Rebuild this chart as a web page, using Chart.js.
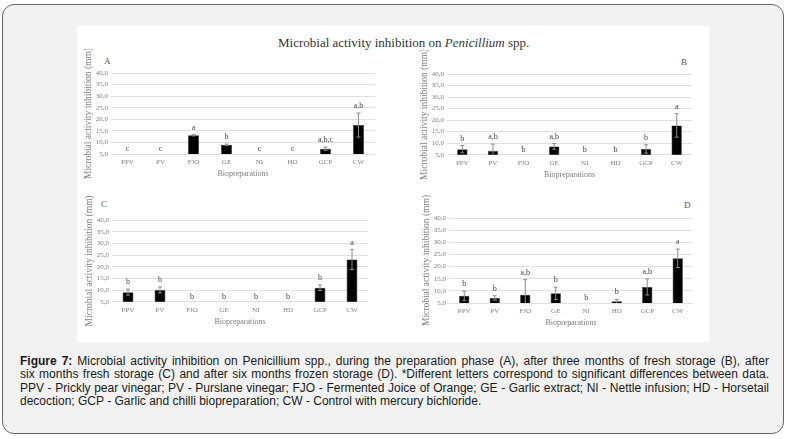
<!DOCTYPE html>
<html>
<head>
<meta charset="utf-8">
<script src="https://cdn.jsdelivr.net/npm/chart.js@4/dist/chart.umd.min.js"></script>
<style>
  body { margin: 0; background: #fff; width: 790px; height: 439px; overflow: hidden; position: relative; }
  #frame { position: absolute; left: 2px; top: 4px; width: 780px; height: 428px; border: 1.5px solid #666; border-radius: 12px; background: #f2f2f2; }
  #sheet { position: absolute; left: 77px; top: 26px; width: 632px; height: 316px; background: #fff; }
  #title { position: absolute; left: 278px; top: 35px; white-space: nowrap; font-family: "Liberation Serif", serif; font-size: 13px; color: #333; }
  .tag { position: absolute; font-family: "Liberation Serif", serif; font-size: 9px; color: #555; }
  canvas { position: absolute; }
  #caption { position: absolute; left: 20px; top: 355px; width: 749px; font-family: "Liberation Sans", Arial, sans-serif; font-size: 12px; line-height: 13.4px; color: #1a1a1a; }
  #caption div { text-align: justify; text-align-last: justify; white-space: nowrap; }
  #caption div.last { text-align-last: left; }
</style>
</head>
<body>
<div id="frame"></div>
<div id="sheet"></div>
<div id="title">Microbial activity inhibition on <i>Penicillium</i> spp.</div>
<div class="tag" style="left:104px;top:56px">A</div>
<div class="tag" style="left:681px;top:57px">B</div>
<div class="tag" style="left:101px;top:199px">C</div>
<div class="tag" style="left:684px;top:200px">D</div>
<canvas id="chartA"></canvas>
<canvas id="chartB"></canvas>
<canvas id="chartC"></canvas>
<canvas id="chartD"></canvas>
<div id="caption">
  <div><b>Figure 7:</b> Microbial activity inhibition on Penicillium spp., during the preparation phase (A), after three months of fresh storage (B), after</div>
  <div>six months fresh storage (C) and after six months frozen storage (D). *Different letters correspond to significant differences between data.</div>
  <div>PPV - Prickly pear vinegar; PV - Purslane vinegar; FJO - Fermented Joice of Orange; GE - Garlic extract; NI - Nettle infusion; HD - Horsetail</div>
  <div class="last">decoction; GCP - Garlic and chilli biopreparation; CW - Control with mercury bichloride.</div>
</div>
<script>
var categories = ['PPV', 'PV', 'FJO', 'GE', 'NI', 'HD', 'GCP', 'CW'];
var yTicks = [5, 10, 15, 20, 25, 30, 35, 40];

var valuesA = [0, 0, 13.1, 9.0, 0, 0, 7.3, 17.5];
var errorsA = [0, 0, 0.3, 0.3, 0, 0, 0.7, 5.2];
var lettersA = ['c', 'c', 'a', 'b', 'c', 'c', 'a,b,c', 'a,b'];

var valuesB = [7.4, 6.7, 0, 8.6, 0, 0, 7.5, 17.7];
var errorsB = [1.6, 2.9, 0, 1.2, 0, 0, 1.8, 5.1];
var lettersB = ['b', 'a,b', 'b', 'a,b', 'b', 'b', 'b', 'a'];

var valuesC = [9.1, 10.0, 0, 0, 0, 0, 11.0, 23.1];
var errorsC = [1.3, 1.3, 0, 0, 0, 0, 1.2, 4.3];
var lettersC = ['b', 'b', 'b', 'b', 'b', 'b', 'b', 'a'];

var valuesD = [8.0, 7.1, 8.4, 9.0, 0, 5.7, 11.6, 23.4];
var errorsD = [1.9, 0.9, 6.2, 2.5, 0, 0.8, 3.3, 3.8];
var lettersD = ['b', 'b', 'a,b', 'b', 'b', 'b', 'a,b', 'a'];

var serif = '"Liberation Serif", serif';

// error bars and letters drawn on top of the bars
var extras = {
    id: 'extras',
    afterDatasetsDraw: function (chart, args, opts) {
        var ctx = chart.ctx;
        var y = chart.scales.y;
        var meta = chart.getDatasetMeta(0);
        var area = chart.chartArea;
        ctx.save();
        meta.data.forEach(function (bar, i) {
            var v = opts.values[i], e = opts.errors[i];
            var top = v;
            if (v > y.min && e > 0) {
                var yt = y.getPixelForValue(v + e);
                var yb = Math.min(y.getPixelForValue(v - e), area.bottom);
                ctx.strokeStyle = '#8c8c8c';
                ctx.lineWidth = 1;
                ctx.beginPath();
                ctx.moveTo(bar.x, yt); ctx.lineTo(bar.x, yb);
                ctx.moveTo(bar.x - 2, yt); ctx.lineTo(bar.x + 2, yt);
                if (yb < area.bottom) { ctx.moveTo(bar.x - 2, yb); ctx.lineTo(bar.x + 2, yb); }
                ctx.stroke();
                top = v + e;
            }
            var ly = top > y.min ? y.getPixelForValue(top) - 3 : area.bottom - 1;
            ctx.fillStyle = '#444';
            ctx.font = '8px ' + serif;
            ctx.textAlign = 'center';
            ctx.textBaseline = 'bottom';
            ctx.fillText(opts.letters[i], bar.x, ly);
        });
        ctx.restore();
    }
};

function makePanel(id, values, errors, letters, box) {
    var canvas = document.getElementById(id);
    var w = Math.round(box.right - box.left + 44);
    var h = Math.round(box.bottom - box.top + 52);
    canvas.style.left = (box.left - 32) + 'px';
    canvas.style.top = (box.top - 24) + 'px';
    canvas.style.width = w + 'px';
    canvas.style.height = h + 'px';
    return new Chart(canvas, {
        type: 'bar',
        data: {
            labels: categories,
            datasets: [{
                data: values,
                backgroundColor: '#000',
                borderColor: '#3c3c3c',
                borderWidth: 0.6,
                categoryPercentage: 1,
                barPercentage: 0.34
            }]
        },
        options: {
            responsive: false,
            animation: false,
            layout: { padding: { left: 0, top: 24, right: w - 32 - (box.right - box.left), bottom: 0 } },
            plugins: {
                legend: { display: false },
                tooltip: { enabled: false },
                extras: { values: values, errors: errors, letters: letters }
            },
            scales: {
                x: {
                    grid: { display: false, drawTicks: false },
                    border: { display: false },
                    ticks: { color: '#7f7f7f', font: { family: serif, size: 7 }, padding: 4, maxRotation: 0 },
                    title: { display: true, text: 'Biopreparations', color: '#7f7f7f', font: { family: serif, size: 8 }, padding: { top: 0, bottom: 3 } },
                    afterFit: function (s) { s.height = h - 24 - (box.bottom - box.top); }
                },
                y: {
                    min: 5,
                    max: 40,
                    afterBuildTicks: function (s) { s.ticks = yTicks.map(function (v) { return { value: v }; }); },
                    grid: { color: '#d9d9d9', lineWidth: 0.8, drawTicks: false },
                    border: { display: false },
                    ticks: {
                        color: '#7f7f7f', font: { family: serif, size: 7 }, padding: 3,
                        callback: function (v) { return v.toFixed(1).replace('.', ','); }
                    },
                    title: { display: true, text: 'Microbial activity inhibition (mm)', color: '#7f7f7f', font: { family: serif, size: 9.5 }, padding: { top: 4, bottom: 0 } },
                    afterFit: function (s) { s.width = 32; }
                }
            }
        },
        plugins: [extras]
    });
}

makePanel('chartA', valuesA, errorsA, lettersA, { left: 111, right: 375, top: 73.3, bottom: 154.3 });
makePanel('chartB', valuesB, errorsB, lettersB, { left: 447, right: 692, top: 74.3, bottom: 155 });
makePanel('chartC', valuesC, errorsC, lettersC, { left: 112, right: 368, top: 220, bottom: 301.7 });
makePanel('chartD', valuesD, errorsD, lettersD, { left: 449, right: 693, top: 218.3, bottom: 303.3 });
</script>
</body>
</html>
